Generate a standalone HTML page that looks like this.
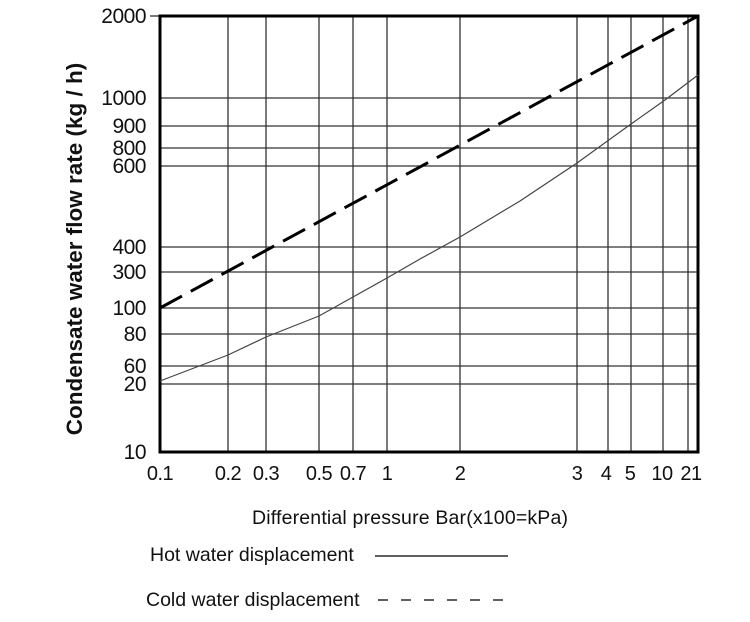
<!DOCTYPE html>
<html><head><style>
body{margin:0;background:#fff;}
svg text{font-family:"Liberation Sans",sans-serif;fill:#111;}
</style></head><body>
<svg width="750" height="617" xmlns="http://www.w3.org/2000/svg">
<g stroke="#333" stroke-width="1.3">
<line x1="228" y1="16" x2="228" y2="452"/><line x1="266" y1="16" x2="266" y2="452"/>
<line x1="319" y1="16" x2="319" y2="452"/><line x1="353" y1="16" x2="353" y2="452"/>
<line x1="387" y1="16" x2="387" y2="452"/><line x1="460" y1="16" x2="460" y2="452"/>
<line x1="577" y1="16" x2="577" y2="452"/><line x1="608" y1="16" x2="608" y2="452"/>
<line x1="631" y1="16" x2="631" y2="452"/><line x1="663" y1="16" x2="663" y2="452"/>
<line x1="688" y1="16" x2="688" y2="452"/>
<line x1="160" y1="98" x2="698" y2="98"/><line x1="160" y1="126" x2="698" y2="126"/>
<line x1="160" y1="148" x2="698" y2="148"/><line x1="160" y1="166" x2="698" y2="166"/>
<line x1="160" y1="247" x2="698" y2="247"/><line x1="160" y1="272" x2="698" y2="272"/>
<line x1="160" y1="308" x2="698" y2="308"/><line x1="160" y1="334" x2="698" y2="334"/>
<line x1="160" y1="366" x2="698" y2="366"/><line x1="160" y1="384" x2="698" y2="384"/>
</g>
<line x1="150" y1="16" x2="160" y2="16" stroke="#333" stroke-width="1.3"/>
<rect x="160" y="16" width="538" height="436" fill="none" stroke="#000" stroke-width="3"/>
<polyline points="160,381 194,368 228,355 266,337 319,316 353,297 387,278 420,259 460,237 520,201 577,163 631,124 665,100 698,75" fill="none" stroke="#444" stroke-width="1.2" stroke-linejoin="round"/>
<line x1="160" y1="308" x2="698" y2="16" stroke="#000" stroke-width="3" stroke-dasharray="25,10"/>
<g font-size="21" text-anchor="end" letter-spacing="-0.5">
<text x="146" y="23">2000</text><text x="146" y="105">1000</text><text x="146" y="133">900</text>
<text x="146" y="155">800</text><text x="146" y="173">600</text><text x="146" y="254">400</text>
<text x="146" y="279">300</text><text x="146" y="315">100</text><text x="146" y="341">80</text>
<text x="146" y="373">60</text><text x="146" y="391">20</text><text x="146" y="459">10</text>
</g>
<g font-size="20" text-anchor="middle" letter-spacing="-0.5">
<text x="160" y="480">0.1</text><text x="228" y="480">0.2</text><text x="266" y="480">0.3</text>
<text x="319" y="480">0.5</text><text x="353" y="480">0.7</text><text x="387" y="480">1</text>
<text x="460" y="480">2</text><text x="577" y="480">3</text><text x="606" y="480">4</text>
<text x="630" y="480">5</text><text x="662" y="480">10</text><text x="691" y="480">21</text>
</g>
<text transform="translate(82,249) rotate(-90)" font-size="22.5" font-weight="bold" text-anchor="middle">Condensate water flow rate (kg / h)</text>
<text x="410" y="524" font-size="19.5" text-anchor="middle" textLength="316">Differential pressure Bar(x100=kPa)</text>
<text x="150" y="561" font-size="19.5">Hot water displacement</text>
<line x1="375" y1="556" x2="508" y2="556" stroke="#000" stroke-width="1.3"/>
<text x="146" y="606" font-size="19.5">Cold water displacement</text>
<line x1="378" y1="600" x2="505" y2="600" stroke="#000" stroke-width="1.3" stroke-dasharray="10,13"/>
</svg>
</body></html>
